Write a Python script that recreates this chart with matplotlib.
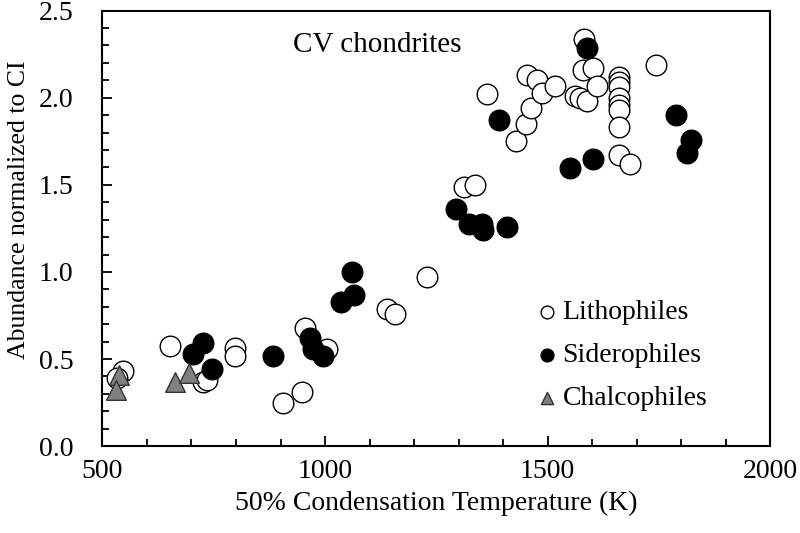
import matplotlib
matplotlib.use("Agg")
import matplotlib.pyplot as plt
from matplotlib.ticker import MultipleLocator

plt.rcParams['font.family'] = ['Liberation Serif', 'DejaVu Serif']

# 50% condensation temperature (K) and abundance normalized to CI
litho_t = [547, 532, 652, 797, 797, 726, 735, 906, 948, 955, 1004, 1139, 1157, 1228,
           1311, 1337, 1364, 1429, 1452, 1462, 1454, 1477, 1487, 1517,
           1562, 1573, 1588, 1580, 1601, 1610, 1581,
           1659, 1659, 1659, 1659, 1659, 1659, 1659, 1659, 1684, 1742]
litho_y = [0.43, 0.39, 0.575, 0.565, 0.52, 0.37, 0.38, 0.25, 0.31, 0.68, 0.555, 0.79, 0.76, 0.97,
           1.49, 1.50, 2.02, 1.75, 1.85, 1.94, 2.13, 2.10, 2.03, 2.07,
           2.01, 2.00, 1.98, 2.16, 2.17, 2.07, 2.335,
           2.12, 2.09, 2.06, 2.00, 1.96, 1.93, 1.83, 1.67, 1.62, 2.19]

sidero_t = [704, 725, 745, 882, 966, 974, 996, 1035, 1060, 1065, 1294, 1324, 1352, 1354,
            1408, 1391, 1551, 1602, 1589, 1789, 1821, 1813]
sidero_y = [0.53, 0.59, 0.44, 0.52, 0.62, 0.56, 0.52, 0.83, 1.00, 0.87, 1.36, 1.275, 1.275, 1.24,
            1.26, 1.87, 1.595, 1.65, 2.285, 1.90, 1.76, 1.685]

chalco_t = [537, 530, 663, 694]
chalco_y = [0.41, 0.32, 0.37, 0.42]

fig = plt.figure(figsize=(8, 5.33), dpi=100)
ax = fig.add_axes([0.128, 0.163, 0.835, 0.817])

ax.scatter(litho_t, litho_y, s=220, facecolor='white', edgecolor='black', linewidth=1.0,
           label='Lithophiles', zorder=2)
ax.scatter(sidero_t, sidero_y, s=220, facecolor='black', edgecolor='black', linewidth=1.0,
           label='Siderophiles', zorder=3)
ax.scatter(chalco_t, chalco_y, s=200, marker='^', facecolor='#808080', edgecolor='#333333',
           linewidth=1.0, label='Chalcophiles', zorder=4)

ax.set_xlim(500, 2000)
ax.set_ylim(0, 2.5)
ax.xaxis.set_major_locator(MultipleLocator(500))
ax.xaxis.set_minor_locator(MultipleLocator(100))
ax.yaxis.set_major_locator(MultipleLocator(0.5))
ax.yaxis.set_minor_locator(MultipleLocator(0.1))
ax.yaxis.set_major_formatter(plt.FormatStrFormatter('%.1f'))
ax.tick_params(which='both', direction='in', top=False, right=False, width=1.3, labelsize=20)
ax.tick_params(which='major', length=7)
ax.tick_params(which='minor', length=5)
ax.tick_params(axis='x', which='major', pad=9)
ax.tick_params(axis='y', which='major', pad=21)
for sp in ax.spines.values():
    sp.set_linewidth(1.5)

ax.set_xlabel('50% Condensation Temperature (K)', fontsize=20, labelpad=5)
ax.set_ylabel('Abundance normalized to CI', fontsize=18.5)
ax.yaxis.set_label_coords(-0.108, 0.542)
ax.text(0.411, 0.921, 'CV chondrites', transform=ax.transAxes, ha='center', va='center', fontsize=21)

ax.legend(loc='upper left', bbox_to_anchor=(536 / 800, 1 - 300 / 533),
          bbox_transform=fig.transFigure, frameon=False, fontsize=20,
          markerscale=0.62, handlelength=0.8, handletextpad=0.15, labelspacing=0.63,
          borderpad=0, borderaxespad=0)

plt.savefig('out.png', dpi=100)
